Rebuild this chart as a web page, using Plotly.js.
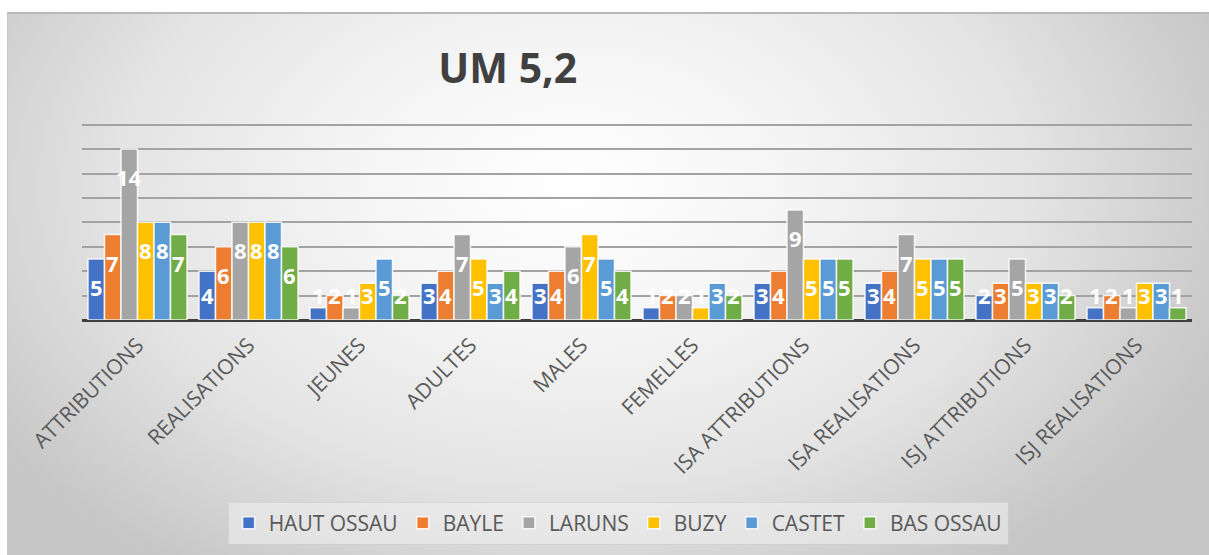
<!DOCTYPE html>
<html>
<head>
<meta charset="utf-8">
<script src="https://cdn.plot.ly/plotly-3.0.1.min.js"></script>
<style>
  html, body { margin: 0; padding: 0; background: #ffffff; width: 1209px; height: 555px; overflow: hidden; }
  #frame {
    position: absolute; left: 7px; top: 12px; width: 1202px; height: 543px;
    border-top: 2px solid #b8b8b8; border-left: 1px solid #c8c8c8; box-sizing: border-box;
    background: radial-gradient(ellipse 58% 85% at 47% 32%, #ffffff 0%, #f5f5f5 30%, #e4e4e4 65%, #c6c6c6 100%);
  }
  #chart { position: absolute; left: 0; top: 0; width: 1209px; height: 555px; }
</style>
</head>
<body>
<div id="frame"></div>
<div id="chart"></div>
<script>
const categories = ["ATTRIBUTIONS", "REALISATIONS", "JEUNES", "ADULTES", "MALES", "FEMELLES",
  "ISA ATTRIBUTIONS", "ISA REALISATIONS", "ISJ ATTRIBUTIONS", "ISJ REALISATIONS"];
const seriesNames = ["HAUT OSSAU", "BAYLE", "LARUNS", "BUZY", "CASTET", "BAS OSSAU"];
const hautOssau = [5, 4, 1, 3, 3, 1, 3, 3, 2, 1];
const bayle     = [7, 6, 2, 4, 4, 2, 4, 4, 3, 2];
const laruns    = [14, 8, 1, 7, 6, 2, 9, 7, 5, 1];
const buzy      = [8, 8, 3, 5, 7, 1, 5, 5, 3, 3];
const castet    = [8, 8, 5, 3, 5, 3, 5, 5, 3, 3];
const basOssau  = [7, 6, 2, 4, 4, 2, 5, 5, 2, 1];
const seriesValues = [hautOssau, bayle, laruns, buzy, castet, basOssau];
const colors = ["#4472C4", "#ED7D31", "#A5A5A5", "#FFC000", "#5B9BD5", "#70AD47"];

const BARGAP = 0.108;
const traces = seriesNames.map((name, i) => ({
  type: "bar",
  name: name,
  x: categories,
  y: seriesValues[i],
  marker: { color: colors[i], line: { color: "rgba(255,255,255,0.85)", width: 1.5 } },
  hoverinfo: "skip"
}));

// data labels, placed in data coordinates from the series values
const slot = (1 - BARGAP) / seriesNames.length;
const annotations = [];
seriesValues.forEach((vals, i) => {
  vals.forEach((v, j) => {
    annotations.push({
      xref: "x", yref: "y",
      x: j + (i - (seriesNames.length - 1) / 2) * slot,
      y: Math.max(v - 2.3, 2.05),
      text: String(v),
      showarrow: false,
      xanchor: "center", yanchor: "middle",
      font: { family: "Open Sans, sans-serif", size: 22, color: "#ffffff", weight: 700 }
    });
  });
});

const layout = {
  width: 1209, height: 555,
  paper_bgcolor: "rgba(0,0,0,0)",
  plot_bgcolor: "rgba(0,0,0,0)",
  margin: { l: 82, r: 17, t: 121, b: 235 },
  barmode: "group",
  bargap: BARGAP,
  bargroupgap: 0,
  title: {
    text: "<b>UM 5,2</b>",
    xref: "container", yref: "container",
    x: 0.42, xanchor: "center",
    y: 0.877, yanchor: "middle",
    font: { family: "Open Sans, sans-serif", size: 41, color: "#404040" }
  },
  xaxis: {
    type: "category",
    tickangle: -45,
    tickfont: { family: "Open Sans, sans-serif", size: 21, color: "#595959" },
    ticklabelstandoff: 8,
    showgrid: false,
    showline: false,
    ticks: "",
    automargin: false
  },
  yaxis: {
    range: [0, 16.3],
    tickvals: [2, 4, 6, 8, 10, 12, 14, 16],
    showticklabels: false,
    showgrid: true,
    gridcolor: "#a3a3a3",
    gridwidth: 2,
    zeroline: true,
    zerolinecolor: "#3f3f3f",
    zerolinewidth: 3,
    automargin: false
  },
  showlegend: true,
  legend: {
    orientation: "h",
    xref: "paper", yref: "container",
    x: 0.483, xanchor: "center",
    y: 0.096, yanchor: "top",
    bgcolor: "rgba(240,240,240,0.55)",
    bordercolor: "rgba(205,205,205,0.7)",
    borderwidth: 1,
    font: { family: "Open Sans, sans-serif", size: 21, color: "#595959" },
    traceorder: "normal"
  },
  annotations: annotations
};

Plotly.newPlot("chart", traces, layout, { displayModeBar: false, staticPlot: true });
</script>
</body>
</html>
